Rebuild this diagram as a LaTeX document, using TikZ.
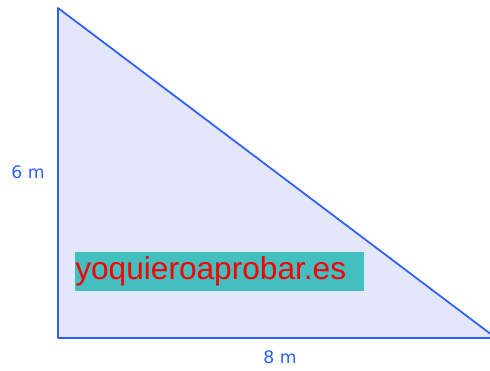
\documentclass[tikz,border=0pt]{standalone}
\usepackage{fontspec}
\setmainfont{DejaVu Sans}
\newfontfamily\markfont{Liberation Sans}
\usepackage{tikz}
\usetikzlibrary{positioning}

\definecolor{sideblue}{RGB}{45,95,250}
\definecolor{areafill}{RGB}{228,230,250}
\definecolor{markteal}{RGB}{66,191,190}
\definecolor{markred}{RGB}{250,0,0}

\begin{document}
\begin{tikzpicture}[x=0.02cm, y=-0.02cm, every node/.style={text=sideblue, font=\fontsize{9.8}{11}\selectfont}]
    \useasboundingbox (0,0) rectangle (490,370);
    \coordinate (top) at (58,8);
    \coordinate (corner) at (58,338);
    \coordinate (tip) at (496,338);

    \filldraw[fill=areafill, draw=sideblue, line width=1pt, line join=round] (top) -- (corner) -- (tip) -- cycle;

    \node (height) at (28,172) {6 m};
    \node (base) at (280,357) {8 m};

    \fill[markteal] (75,252) rectangle (364,291);
    \node[anchor=west, inner sep=0pt, text=markred, font=\markfont\fontsize{18}{20}\selectfont] (mark) at (75,271) {yoquieroaprobar.es};
  \end{tikzpicture}
\end{document}
